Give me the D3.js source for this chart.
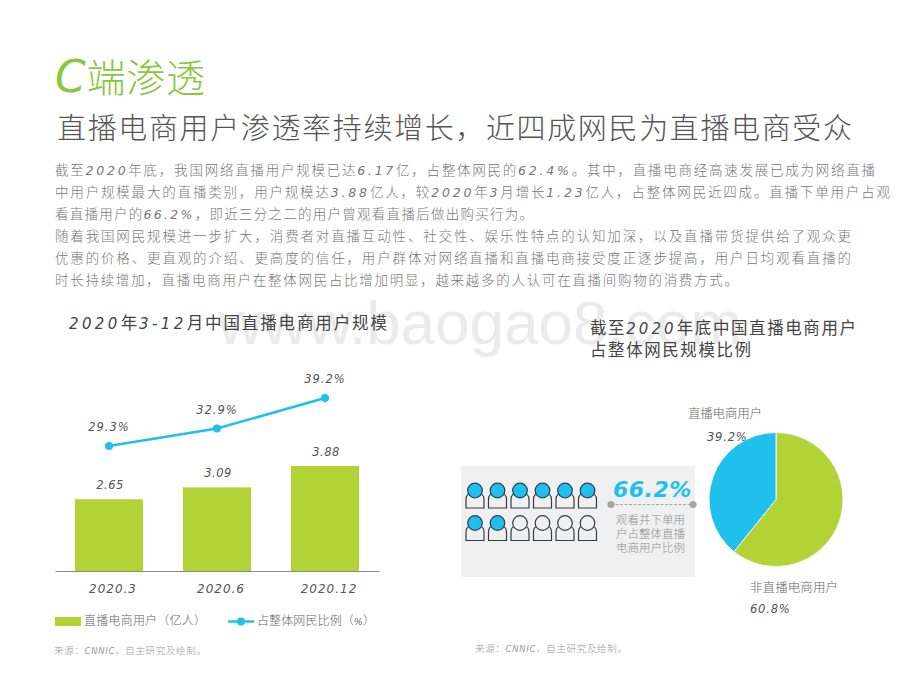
<!DOCTYPE html>
<html>
<head>
<meta charset="utf-8">
<script src="https://cdn.jsdelivr.net/npm/d3@7"></script>
<style>
  html, body { margin: 0; padding: 0; background: #fff; }
  text { font-family: "Noto Sans CJK SC", sans-serif; font-weight: 300; }
</style>
</head>
<body>
<svg id="chart" width="920" height="690"></svg>
<script>
const months = ["2020.3", "2020.6", "2020.12"];
const users = [2.65, 3.09, 3.88];
const shares = [29.3, 32.9, 39.2];
const pieNames = ["非直播电商用户", "直播电商用户"];
const pieValues = [60.8, 39.2];
const peopleFilled = [1, 1, 1, 1, 1, 1, 1, 1, 0, 0, 0, 0];
const captionLines = ["观看并下单用", "户占整体直播", "电商用户比例"];
const bodyLines = [
  ["截至2020年底\uFF0C我国网络直播用户规模已达6.17亿\uFF0C占整体网民的62.4%。其中\uFF0C直播电商经高速发展已成为网络直播", 820],
  ["中用户规模最大的直播类别\uFF0C用户规模达3.88亿人\uFF0C较2020年3月增长1.23亿人\uFF0C占整体网民近四成。直播下单用户占观", 835],
  ["看直播用户的66.2%\uFF0C即近三分之二的用户曾观看直播后做出购买行为。", 478],
  ["随着我国网民规模进一步扩大\uFF0C消费者对直播互动性、社交性、娱乐性特点的认知加深\uFF0C以及直播带货提供给了观众更", 796],
  ["优惠的价格、更直观的介绍、更高度的信任\uFF0C用户群体对网络直播和直播电商接受度正逐步提高\uFF0C用户日均观看直播的", 796],
  ["时长持续增加\uFF0C直播电商用户在整体网民占比增加明显\uFF0C越来越多的人认可在直播间购物的消费方式。", 683]
];
const sourceNote = "来源\uFF1ACNNIC\uFF0C自主研究及绘制。";

const GREEN = "#b2d235";
const BLUE = "#1fc0ee";
const LATIN = '"DejaVu Sans", sans-serif';

const svg = d3.select("#chart");

// latin runs get the wide slanted face, the rest stays CJK
function richText(sel, str, opts) {
  str.split(/([0-9A-Za-z.%\-]+)/).filter(s => s).forEach(part => {
    const t = sel.append("tspan").text(part);
    if (/^[0-9A-Za-z.%\-]+$/.test(part)) {
      t.attr("font-family", LATIN).attr("font-style", "italic");
      if (opts.latinSize) t.attr("font-size", opts.latinSize);
      if (opts.latinSpacing) t.attr("letter-spacing", opts.latinSpacing);
    }
  });
  return sel;
}

function label(x, y, str, opts = {}) {
  const t = svg.append("text")
    .attr("x", x).attr("y", y)
    .attr("font-size", opts.size || 12)
    .attr("fill", opts.fill || "#6e6e6e")
    .attr("text-anchor", opts.anchor || "start")
    .style("font-weight", opts.weight || 300);
  richText(t, str, opts);
  if (opts.length) t.attr("textLength", opts.length).attr("lengthAdjust", "spacing");
  return t;
}

// watermark sits under everything
svg.append("text")
  .attr("x", 218).attr("y", 344)
  .attr("font-size", 62)
  .attr("fill", "#ebebeb")
  .style("font-family", '"Liberation Sans", sans-serif')
  .style("font-weight", 400)
  .text("www.baogao8.com");

// headers
label(55, 92, "C端渗透", { size: 39, fill: "#8cc63f", latinSize: 44, length: 150 });
label(57, 139, "直播电商用户渗透率持续增长\uFF0C近四成网民为直播电商受众", { size: 29, fill: "#555", length: 795 });
bodyLines.forEach((d, i) => {
  label(55, 175 + i * 21.9, d[0], { size: 13.5, fill: "#777", latinSize: 12.5, latinSpacing: 1, length: d[1] });
});

// left chart
label(69, 329, "2020年3-12月中国直播电商用户规模", { size: 16.5, fill: "#444", weight: 400, latinSize: 15, latinSpacing: 1.5, length: 318 });

const x = d3.scaleBand().domain(months).range([55, 379]).paddingInner(0.37).paddingOuter(0.185);
const yBar = d3.scaleLinear().domain([0, 3.88]).range([571, 466]);
const yLine = d3.scaleLinear().domain([29.3, 39.2]).range([446, 398]);

svg.selectAll(".bar").data(users).join("rect")
  .attr("class", "bar")
  .attr("x", (d, i) => x(months[i]))
  .attr("y", d => yBar(d))
  .attr("width", x.bandwidth())
  .attr("height", d => yBar(0) - yBar(d))
  .attr("fill", GREEN);

const axis = svg.append("g")
  .attr("transform", `translate(0,${yBar(0)})`)
  .call(d3.axisBottom(x).tickSize(0).tickPadding(13));
axis.select(".domain").attr("stroke", "#8a8a8a").attr("stroke-width", 1);
axis.selectAll("text")
  .attr("dx", 4)
  .attr("font-size", 12)
  .attr("letter-spacing", 1)
  .attr("fill", "#555")
  .style("font-family", LATIN)
  .style("font-style", "italic")
  .style("font-weight", 400);

svg.selectAll(".bar-label").data(users).join("text")
  .attr("class", "bar-label")
  .attr("x", (d, i) => x(months[i]) + x.bandwidth() / 2 + 1)
  .attr("y", d => yBar(d) - 10)
  .attr("text-anchor", "middle")
  .attr("font-size", 11.5)
  .attr("letter-spacing", 0.5)
  .attr("fill", "#555")
  .style("font-family", LATIN)
  .style("font-style", "italic")
  .style("font-weight", 400)
  .text(d => d.toFixed(2));

const lineX = (d, i) => x(months[i]) + x.bandwidth() / 2;
svg.append("path")
  .attr("d", d3.line().x(lineX).y(d => yLine(d))(shares))
  .attr("fill", "none")
  .attr("stroke", BLUE)
  .attr("stroke-width", 2.5);
svg.selectAll(".dot").data(shares).join("circle")
  .attr("class", "dot")
  .attr("cx", lineX)
  .attr("cy", d => yLine(d))
  .attr("r", 4)
  .attr("fill", BLUE);
svg.selectAll(".line-label").data(shares).join("text")
  .attr("class", "line-label")
  .attr("x", lineX)
  .attr("y", d => yLine(d) - 15)
  .attr("text-anchor", "middle")
  .attr("font-size", 11.5)
  .attr("letter-spacing", 1)
  .attr("fill", "#555")
  .style("font-family", LATIN)
  .style("font-style", "italic")
  .style("font-weight", 400)
  .text(d => d.toFixed(1) + "%");

// legend
svg.append("rect").attr("x", 55).attr("y", 617).attr("width", 26).attr("height", 9).attr("fill", GREEN);
label(84, 625, "直播电商用户\uFF08亿人\uFF09", { size: 12, fill: "#666", length: 122 });
svg.append("line").attr("x1", 228).attr("x2", 254).attr("y1", 621.5).attr("y2", 621.5)
  .attr("stroke", BLUE).attr("stroke-width", 2.5);
svg.append("circle").attr("cx", 241).attr("cy", 621.5).attr("r", 4).attr("fill", BLUE);
label(257, 625, "占整体网民比例\uFF08%\uFF09", { size: 12, fill: "#666", latinSize: 9.5, length: 118 });

label(54, 654, sourceNote, { size: 9.5, fill: "#999", latinSize: 8.5, length: 152 });
label(475, 652, sourceNote, { size: 9.5, fill: "#999", latinSize: 8.5, length: 152 });

// right chart
label(590, 334, "截至2020年底中国直播电商用户", { size: 16.5, fill: "#444", weight: 400, latinSize: 15, latinSpacing: 1.5, length: 266 });
label(590, 356, "占整体网民规模比例", { size: 16.5, fill: "#444", weight: 400, length: 161 });

svg.append("rect").attr("x", 461).attr("y", 466).attr("width", 234).attr("height", 111).attr("fill", "#f0f0f1");

const col = d3.scalePoint().domain(d3.range(6)).range([475, 587.5]);
const row = d3.scalePoint().domain(d3.range(2)).range([490.5, 523]);
const people = svg.selectAll(".person").data(peopleFilled).join("g")
  .attr("class", "person")
  .attr("transform", (d, i) => `translate(${col(i % 6)},${row(Math.floor(i / 6))})`);
people.append("path")
  .attr("d", "M-9,17.5 V9 Q-9,3 -3,3 H3 Q9,3 9,9 V17.5 Z")
  .attr("fill", "#f0f0f1")
  .attr("stroke", "#2c3e50")
  .attr("stroke-width", 1.2);
people.append("circle")
  .attr("r", 7.3)
  .attr("fill", d => d ? BLUE : "#f0f0f1")
  .attr("stroke", "#2c3e50")
  .attr("stroke-width", 1.2);

svg.append("text")
  .attr("x", 613).attr("y", 497)
  .attr("font-size", 22)
  .attr("letter-spacing", 0.5)
  .attr("fill", BLUE)
  .style("font-family", LATIN)
  .style("font-style", "italic")
  .style("font-weight", 700)
  .text("66.2%");
svg.append("line").attr("x1", 611).attr("x2", 693).attr("y1", 504.5).attr("y2", 504.5)
  .attr("stroke", "#a6a6a6").attr("stroke-dasharray", "3 1.5");
svg.selectAll(".cap-dot").data([611, 693]).join("circle")
  .attr("class", "cap-dot")
  .attr("cx", d => d).attr("cy", 504.5).attr("r", 3.6).attr("fill", "#a6a6a6");
captionLines.forEach((d, i) => {
  label(650.5, 524 + i * 14, d, { size: 11.5, fill: "#8f8f8f", anchor: "middle" });
});

// pie, green starts at 12 o'clock going clockwise
const pie = d3.pie().sort(null).value(d => d);
const arc = d3.arc().innerRadius(0).outerRadius(67);
const pieColors = d3.scaleOrdinal().domain(pieNames).range([GREEN, BLUE]);
svg.append("g")
  .attr("transform", "translate(776,499.5)")
  .selectAll("path").data(pie(pieValues)).join("path")
  .attr("d", arc)
  .attr("fill", (d, i) => pieColors(pieNames[i]))
  .attr("stroke", "#f4f4f4")
  .attr("stroke-width", 1);

label(688, 418, pieNames[1], { size: 12.5, fill: "#666", length: 74 });
label(707, 441, pieValues[1].toFixed(1) + "%", { size: 11.5, fill: "#555", latinSpacing: 0.8 });
label(750, 592, pieNames[0], { size: 12.5, fill: "#666", length: 88 });
label(750, 613, pieValues[0].toFixed(1) + "%", { size: 11.5, fill: "#555", latinSpacing: 0.8 });
</script>
</body>
</html>
